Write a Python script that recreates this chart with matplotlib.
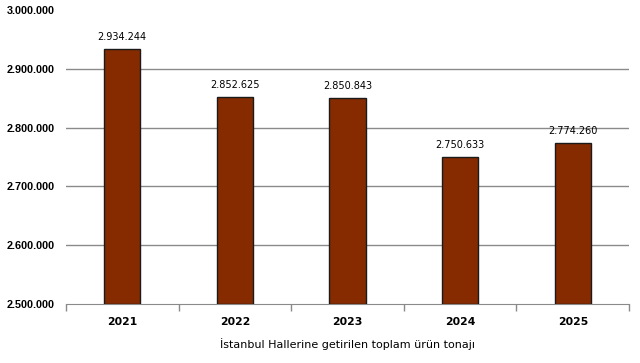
import numpy as np
import matplotlib
matplotlib.use("Agg")
import matplotlib.pyplot as plt
from matplotlib.ticker import FuncFormatter, FixedLocator

years = ["2021", "2022", "2023", "2024", "2025"]
tonnage = [2934244, 2852625, 2850843, 2750633, 2774260]


def dotted(v, pos=None):
	return "{:,.0f}".format(v).replace(",", ".")


fig = plt.figure(figsize=(6.4, 3.63), dpi=100)
ax = fig.add_axes([0.103, 0.1625, 0.880, 0.810])

x = np.arange(len(years))
ax.bar(x, [t - 2500000 for t in tonnage], bottom=2500000, width=0.32,
	color="#862B00", edgecolor="#1a1a1a", linewidth=1.0, zorder=3)

for xi, t in zip(x, tonnage):
	ax.text(xi, t + 11000, dotted(t), ha="center", va="bottom", fontsize=7, color="black")

ax.set_ylim(2500000, 3000000)
ax.set_xlim(-0.5, len(years) - 0.5)
yt = np.arange(2500000, 3000001, 100000)
ax.set_yticks(yt)
ax.yaxis.set_major_formatter(FuncFormatter(dotted))
# gridlines (the top one is not drawn in the original)
for v in yt[1:-1]:
	ax.axhline(v, color="#8a8a8a", linewidth=1.0, zorder=0)

ax.set_xticks(x)
ax.set_xticklabels(years, fontweight="bold", fontsize=7.8)
ax.xaxis.set_minor_locator(FixedLocator(np.arange(-0.5, len(years), 1.0)))
ax.tick_params(axis="x", which="major", length=0, pad=9)
ax.tick_params(axis="x", which="minor", length=5, color="#8a8a8a", width=1.0)
ax.tick_params(axis="y", length=0, pad=8)
for lbl in ax.get_yticklabels():
	lbl.set_fontweight("bold")
	lbl.set_fontfamily("Liberation Sans")
	lbl.set_fontsize(7.8)

for s in ["top", "right", "left"]:
	ax.spines[s].set_visible(False)
ax.spines["bottom"].set_color("#8a8a8a")

ax.set_xlabel("İstanbul Hallerine getirilen toplam ürün tonajı", fontsize=8, labelpad=8)

fig.savefig("out.png", dpi=100)
